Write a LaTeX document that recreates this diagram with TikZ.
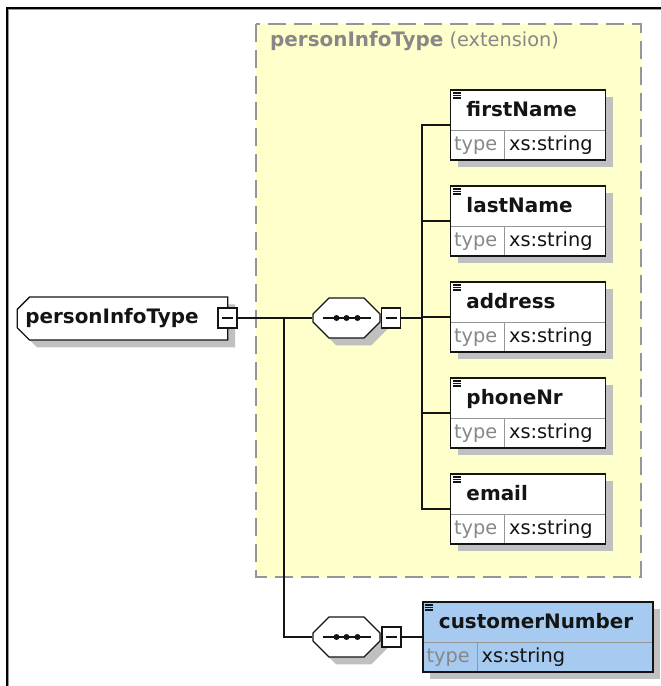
\documentclass[tikz,border=0pt]{standalone}
\usepackage{fontspec}
\setmainfont{DejaVu Sans}
\usepackage{tikz}
\usetikzlibrary{shapes.misc, shadows, positioning}
\definecolor{xsdyellow}{RGB}{255,255,204}
\definecolor{xsdblue}{RGB}{166,202,240}
\definecolor{xsdgray}{RGB}{150,150,150}
\definecolor{xsdtext}{RGB}{135,135,135}
\definecolor{xsdshadow}{RGB}{192,192,192}
\definecolor{xsdink}{RGB}{20,20,20}
\tikzset{
  boxshadow/.style={drop shadow={shadow xshift=0.22cm, shadow yshift=-0.22cm,
    fill=xsdshadow, opacity=1}},
  elem/.style={rectangle, draw=xsdink, fill=white, line width=1.1pt, boxshadow,
    inner xsep=0.48cm, inner ysep=0pt, text width=3.69cm, align=left,
    text height=0.78cm, text depth=1.32cm, text=xsdink,
    font=\bfseries\fontsize{17}{19}\selectfont,
    path picture={
      \draw[xsdgray, line width=0.8pt]
        ([yshift=0.9cm]path picture bounding box.south west) -- ([yshift=0.9cm]path picture bounding box.south east)
        ([xshift=1.62cm]path picture bounding box.south west) -- ([xshift=1.62cm, yshift=0.9cm]path picture bounding box.south west);
      \draw[xsdink, line width=0.9pt]
        ([xshift=0.07cm, yshift=-0.09cm]path picture bounding box.north west) -- ++(0.24cm,0)
        ([xshift=0.07cm, yshift=-0.165cm]path picture bounding box.north west) -- ++(0.24cm,0)
        ([xshift=0.07cm, yshift=-0.24cm]path picture bounding box.north west) -- ++(0.24cm,0);
    }},
  custelem/.style={elem, fill=xsdblue, text width=5.94cm},
  typetxt/.style={anchor=west, inner sep=0pt, text=xsdtext,
    font=\fontsize{16.5}{18}\selectfont},
  valtxt/.style={anchor=west, inner sep=0pt, text=xsdink,
    font=\fontsize{16.5}{18}\selectfont},
  rootnode/.style={chamfered rectangle, chamfered rectangle corners={north west, south west},
    chamfered rectangle xsep=0.24cm, draw=xsdink, fill=white, line width=1.1pt, boxshadow,
    minimum height=1.29cm, inner xsep=0pt, text width=5.83cm,
    align=left, text=xsdink, font=\bfseries\fontsize{17}{19}\selectfont},
  seqnode/.style={chamfered rectangle, chamfered rectangle xsep=0.24cm,
    chamfered rectangle ysep=0.24cm,
    draw=xsdink, fill=white, line width=1.1pt, boxshadow, inner sep=0pt,
    text width=1.53cm, text height=0.36cm, text depth=0.36cm,
    path picture={
      \draw[xsdink, line width=1.3pt]
        ([xshift=-0.72cm]path picture bounding box.center) -- ([xshift=0.72cm]path picture bounding box.center);
      \fill[xsdink] ([xshift=-0.3cm]path picture bounding box.center) circle (0.09cm)
        (path picture bounding box.center) circle (0.09cm)
        ([xshift=0.33cm]path picture bounding box.center) circle (0.09cm);
    }},
  minusbox/.style={rectangle, draw=xsdink, fill=white, line width=1.1pt, inner sep=0pt,
    minimum width=0.57cm, minimum height=0.6cm,
    path picture={
      \draw[xsdink, line width=1pt]
        ([xshift=0.12cm]path picture bounding box.west) -- ([xshift=-0.12cm]path picture bounding box.east);
    }},
  conn/.style={draw=xsdink, line width=1.1pt}
}

\begin{document}
\begin{tikzpicture}[x=0.03cm, y=-0.03cm]
  \useasboundingbox (0,0) rectangle (661,686);

  % Window frame
  \draw[line width=0.06cm] (6.5,686) -- (6.5,7.5) -- (661,7.5);
  \draw[xsdgray, line width=0.03cm] (8.8,686) -- (8.8,9.8) -- (661,9.8);

  % Extension area
  \draw[draw=xsdgray, fill=xsdyellow, line width=0.06cm, dash pattern=on 0.54cm off 0.24cm]
    (256,24) rectangle (641,577);
  \node[anchor=base west, inner sep=0pt, text=xsdtext, font=\fontsize{16.5}{18}\selectfont]
    (exttitle) at (270,46) {{\bfseries\fontsize{17}{19}\selectfont personInfoType} (extension)};

  % Root type
  \node[rootnode] (root) at (122.5,318.5) {personInfoType};
  \node[minusbox] (rootmin) at (227.5,318) {};

  % Sequence compositors
  \node[seqnode] (seq1) at (346.5,318) {};
  \node[minusbox] (seq1min) at (391,318) {};
  \node[seqnode] (seq2) at (346.5,637) {};
  \node[minusbox] (seq2min) at (391.5,637) {};

  % Elements of the extension
  \node[elem] (fn) at (528,125) {firstName};
  \node[typetxt] (fntype) at ([xshift=0.12cm, yshift=0.45cm]fn.south west) {type};
  \node[valtxt] (fnval) at ([xshift=1.77cm, yshift=0.45cm]fn.south west) {xs:string};

  \node[elem] (ln) at (528,221) {lastName};
  \node[typetxt] (lntype) at ([xshift=0.12cm, yshift=0.45cm]ln.south west) {type};
  \node[valtxt] (lnval) at ([xshift=1.77cm, yshift=0.45cm]ln.south west) {xs:string};

  \node[elem] (ad) at (528,317) {address};
  \node[typetxt] (adtype) at ([xshift=0.12cm, yshift=0.45cm]ad.south west) {type};
  \node[valtxt] (adval) at ([xshift=1.77cm, yshift=0.45cm]ad.south west) {xs:string};

  \node[elem] (ph) at (528,413) {phoneNr};
  \node[typetxt] (phtype) at ([xshift=0.12cm, yshift=0.45cm]ph.south west) {type};
  \node[valtxt] (phval) at ([xshift=1.77cm, yshift=0.45cm]ph.south west) {xs:string};

  \node[elem] (em) at (528,509) {email};
  \node[typetxt] (emtype) at ([xshift=0.12cm, yshift=0.45cm]em.south west) {type};
  \node[valtxt] (emval) at ([xshift=1.77cm, yshift=0.45cm]em.south west) {xs:string};

  % Added element
  \node[custelem] (cn) at (538,637) {customerNumber};
  \node[typetxt] (cntype) at ([xshift=0.12cm, yshift=0.45cm]cn.south west) {type};
  \node[valtxt] (cnval) at ([xshift=1.77cm, yshift=0.45cm]cn.south west) {xs:string};

  % Connectors
  \coordinate (split) at (284,318);
  \coordinate (bus) at (422,318);
  \draw[conn] (rootmin.east) -- (seq1.west);
  \draw[conn] (split) |- (seq2.west);
  \draw[conn] (seq1min.east) -- (bus);
  \draw[conn] (fn.west) -| (bus) |- (em.west);
  \draw[conn] (ln.west) -- (ln.west -| bus);
  \draw[conn] (ad.west) -- (ad.west -| bus);
  \draw[conn] (ph.west) -- (ph.west -| bus);
  \draw[conn] (seq2min.east) -- (cn.west);
\end{tikzpicture}
\end{document}
